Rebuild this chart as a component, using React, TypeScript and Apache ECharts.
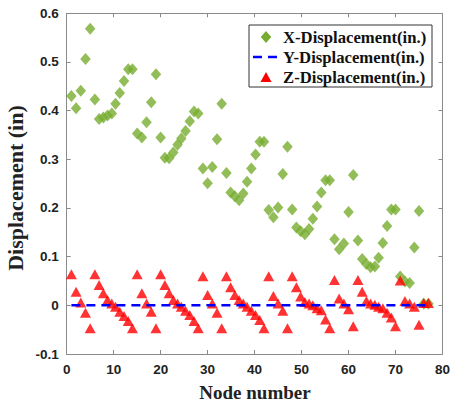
import React, { useEffect, useRef } from "react";
import * as echarts from "echarts";

// Node positions shared by the X and Z displacement series
const nodes = [
  1, 2, 3, 4, 5,
  6, 6.9, 7.8, 8.7, 9.6, 10.4, 11.3, 12.2, 13.1, 14,
  15, 16, 17, 18, 19,
  20, 20.9, 21.8, 22.7, 23.6, 24.4, 25.3, 26.2, 27.1, 28,
  29, 30, 31, 32, 33,
  34, 34.9, 35.8, 36.7, 37.6, 38.4, 39.3, 40.2, 41.1, 42,
  43, 44, 45, 46, 47,
  48, 48.9, 49.8, 50.7, 51.6, 52.4, 53.3, 54.2, 55.1, 56,
  57, 58, 59, 60, 61,
  62, 62.9, 63.8, 64.7, 65.6, 66.4, 67.3, 68.2, 69.1, 70,
  71, 72, 73, 74, 75,
  76, 77,
];

const xDisp = [
  0.430, 0.405, 0.441, 0.506, 0.568,
  0.423, 0.383, 0.386, 0.390, 0.394, 0.414, 0.436, 0.461, 0.485, 0.485,
  0.353, 0.345, 0.376, 0.417, 0.475,
  0.345, 0.303, 0.302, 0.314, 0.330, 0.343, 0.358, 0.378, 0.398, 0.394,
  0.281, 0.251, 0.284, 0.341, 0.414,
  0.272, 0.232, 0.224, 0.216, 0.230, 0.254, 0.281, 0.310, 0.336, 0.336,
  0.196, 0.181, 0.201, 0.270, 0.326,
  0.197, 0.160, 0.152, 0.146, 0.157, 0.178, 0.203, 0.232, 0.257, 0.257,
  0.136, 0.115, 0.127, 0.192, 0.268,
  0.133, 0.095, 0.085, 0.078, 0.080, 0.098, 0.128, 0.163, 0.197, 0.197,
  0.059, 0.049, 0.046, 0.119, 0.194,
  0.003, 0.003,
];

const zDisp = [
  0.064, 0.028, 0.006, -0.015, -0.047,
  0.064, 0.042, 0.025, 0.011, 0.004, -0.003, -0.013, -0.022, -0.032, -0.047,
  0.064, 0.025, 0.004, -0.013, -0.047,
  0.064, 0.042, 0.025, 0.011, 0.004, -0.003, -0.011, -0.020, -0.032, -0.047,
  0.060, 0.021, 0.004, -0.015, -0.047,
  0.060, 0.037, 0.021, 0.011, 0.004, -0.003, -0.011, -0.020, -0.030, -0.047,
  0.060, 0.019, 0.004, -0.011, -0.047,
  0.060, 0.037, 0.018, 0.007, 0.004, 0.000, -0.006, -0.010, -0.029, -0.047,
  0.052, 0.014, 0.004, -0.008, -0.043,
  0.052, 0.028, 0.009, 0.004, 0.001, -0.003, -0.006, -0.015, -0.025, -0.043,
  0.051, 0.009, 0.004, -0.003, -0.040,
  0.005, 0.005,
];

const yNodes = [1, 77];
const yDisp = [0, 0];

const seriesNames = ["X-Displacement(in.)", "Y-Displacement(in.)", "Z-Displacement(in.)"];
const xTitle = "Node number";
const yTitle = "Displacement (in)";

const GREEN = "#77AC30";
const BLUE = "#0000FF";
const RED = "#FF0000";
const AXIS = "#8a8a8a";
const LABEL_FONT = "'Liberation Sans', Arial, sans-serif";
const SERIF = "'Liberation Serif', 'Times New Roman', serif";

export default function App() {
  const ref = useRef<HTMLDivElement>(null);
  useEffect(() => {
    if (!ref.current) return;
    const chart = echarts.init(ref.current, undefined, { renderer: "svg" });
    const fmt = (v: number) => {
      const r = Math.round(v * 10) / 10;
      return r === 0 ? "0" : String(r);
    };
    const axisCommon = {
      axisLine: { show: true, onZero: false, lineStyle: { color: AXIS, width: 1 } },
      axisTick: { show: true, inside: true, length: 4, lineStyle: { color: AXIS } },
      splitLine: { show: false },
    };
    const legendX = 249;
    const legendY = 25;
    const rowY = [37, 57, 77];
    chart.setOption({
      animation: false,
      backgroundColor: "#ffffff",
      grid: { left: 66.7, right: 10, top: 13.3, bottom: 55 },
      xAxis: [
        {
          type: "value", min: 0, max: 80, interval: 10, position: "bottom",
          ...axisCommon,
          axisLabel: {
            show: true, margin: 8, color: "#222", fontWeight: "bold",
            fontSize: 13.5, fontFamily: LABEL_FONT,
          },
        },
        {
          type: "value", min: 0, max: 80, interval: 10, position: "top",
          ...axisCommon, axisLabel: { show: false },
        },
      ],
      yAxis: [
        {
          type: "value", min: -0.1, max: 0.6, interval: 0.1, position: "left",
          ...axisCommon,
          axisLabel: {
            show: true, margin: 8, color: "#222", fontWeight: "bold",
            fontSize: 13.5, fontFamily: LABEL_FONT, formatter: fmt,
          },
        },
        {
          type: "value", min: -0.1, max: 0.6, interval: 0.1, position: "right",
          ...axisCommon, axisLabel: { show: false },
        },
      ],
      series: [
        {
          name: seriesNames[0], type: "scatter", symbol: "diamond", symbolSize: [10.5, 12],
          itemStyle: { color: GREEN },
          data: nodes.map((n, i) => [n, xDisp[i]]),
        },
        {
          name: seriesNames[1], type: "line", symbol: "none",
          lineStyle: { color: BLUE, width: 2.5, type: [9, 6] },
          data: yNodes.map((n, i) => [n, yDisp[i]]),
        },
        {
          name: seriesNames[2], type: "scatter", symbol: "triangle", symbolSize: [11, 10],
          itemStyle: { color: RED },
          data: nodes.map((n, i) => [n, zDisp[i]]),
        },
      ],
      graphic: [
        {
          type: "text", x: 255, y: 392,
          style: {
            text: xTitle, font: `bold 19px ${SERIF}`, fill: "#222",
            textAlign: "center", textVerticalAlign: "middle",
          },
        },
        {
          type: "text", x: 15, y: 188, rotation: Math.PI / 2,
          style: {
            text: yTitle, font: `bold 22px ${SERIF}`, fill: "#222",
            textAlign: "center", textVerticalAlign: "middle",
          },
        },
        {
          type: "rect", shape: { x: legendX, y: legendY, width: 183, height: 62 },
          style: { fill: "#ffffff", stroke: "#333", lineWidth: 1 },
        },
        {
          type: "polygon",
          shape: { points: [[266, rowY[0] - 6], [271.25, rowY[0]], [266, rowY[0] + 6], [260.75, rowY[0]]] },
          style: { fill: GREEN },
        },
        {
          type: "line", shape: { x1: 253, y1: rowY[1], x2: 280, y2: rowY[1] },
          style: { stroke: BLUE, lineWidth: 2.5, lineDash: [9, 6] },
        },
        {
          type: "polygon",
          shape: { points: [[266, rowY[2] - 5], [271.5, rowY[2] + 5], [260.5, rowY[2] + 5]] },
          style: { fill: RED },
        },
        ...seriesNames.map((name, i) => ({
          type: "text", x: 283, y: rowY[i],
          style: {
            text: name, font: `bold 16.7px ${SERIF}`, fill: "#111",
            textAlign: "left", textVerticalAlign: "middle",
          },
        })),
      ],
    });
    return () => chart.dispose();
  }, []);
  return (
    <div
      ref={ref}
      style={{ position: "absolute", left: 0, top: 0, width: 453, height: 409 }}
    />
  );
}
